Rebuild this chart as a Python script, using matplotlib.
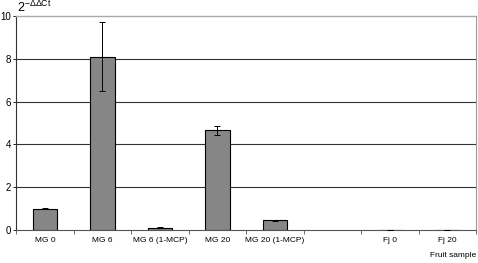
import numpy as np
import matplotlib.pyplot as plt

plt.rcParams['font.family'] = ['Liberation Sans', 'DejaVu Sans']
plt.rcParams['mathtext.fontset'] = 'custom'
plt.rcParams['mathtext.rm'] = 'Liberation Sans'

categories = ['MG 0', 'MG 6', 'MG 6 (1-MCP)', 'MG 20', 'MG 20 (1-MCP)', '', 'Fj 0', 'Fj 20']
values = [1.0, 8.1, 0.1, 4.65, 0.45, np.nan, 0.01, 0.01]
errors = [0.02, 1.6, 0.02, 0.22, 0.04, np.nan, 0.0, 0.0]
yticks = [0, 2, 4, 6, 8, 10]

fig = plt.figure(figsize=(4.78, 2.63), dpi=100)
ax = fig.add_axes([0.034, 0.1255, 0.962, 0.814])

x = np.arange(len(categories))
ax.bar(x, values, width=0.42, color='#868686', edgecolor='black', linewidth=0.8, zorder=3)
ax.errorbar(x, values, yerr=errors, fmt='none', ecolor='black', elinewidth=0.7,
            capsize=2.5, capthick=0.7, zorder=4)

ax.set_xlim(-0.5, len(categories) - 0.5)
ax.set_ylim(0, 10)
ax.set_yticks(yticks)
ax.set_yticklabels([str(t) for t in yticks], fontsize=7)
ax.set_xticks(x)
ax.set_xticklabels(categories, fontsize=6)
ax.tick_params(axis='x', length=0, pad=5)
ax.set_xticks(np.arange(-0.5, len(categories)), minor=True)
ax.tick_params(axis='x', which='minor', length=3, width=0.6, color='#555555')
ax.tick_params(axis='y', length=2.5, width=0.6, pad=1)

for t in yticks[1:-1]:
    ax.axhline(t, color='#333333', linewidth=0.8, zorder=1)

ax.spines['top'].set_color('#aaaaaa')
ax.spines['top'].set_linewidth(1.0)
ax.spines['right'].set_color('#999999')
ax.spines['right'].set_linewidth(0.8)
ax.spines['left'].set_color('#333333')
ax.spines['left'].set_linewidth(0.8)
ax.spines['bottom'].set_color('#555555')
ax.spines['bottom'].set_linewidth(0.8)

fig.text(0.036, 0.955, r'2$^{\mathregular{-\Delta\Delta Ct}}$', fontsize=9, ha='left', va='baseline')
fig.text(0.996, 0.022, 'Fruit sample', fontsize=6, ha='right', va='baseline')

fig.savefig('out.png', dpi=100)
